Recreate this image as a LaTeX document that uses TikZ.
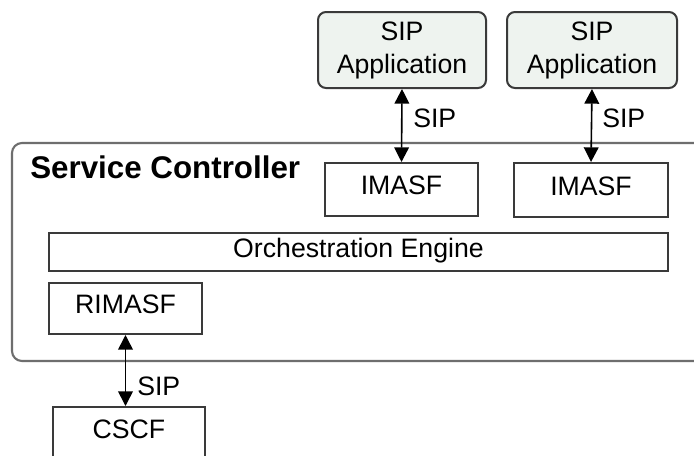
\documentclass[tikz,border=0pt]{standalone}
\usepackage{fontspec}
\setmainfont{Liberation Sans}
\usetikzlibrary{arrows.meta}
\definecolor{appfill}{HTML}{EEF3EF}
\definecolor{boxline}{HTML}{3A3A3A}
\definecolor{scline}{HTML}{6E6E6E}
\begin{document}
\begin{tikzpicture}[x=0.75pt,y=-0.75pt,
  box/.style={draw=boxline, line width=1.5pt, fill=white, inner sep=0pt,
    font=\fontsize{20}{24.75}\selectfont, text depth=6pt},
  appbox/.style={draw=boxline, line width=1.5pt, fill=appfill, rounded corners=6pt,
    inner sep=0pt, align=center, font=\fontsize{20}{24.75}\selectfont},
  sip/.style={arrows={Triangle[length=11pt,width=11pt]-Triangle[length=11pt,width=11pt]}, line width=1.2pt, black},
  siplabel/.style={inner sep=0pt, anchor=west, font=\fontsize{20}{24}\selectfont}
]
\useasboundingbox (0,0) rectangle (694,455);
\clip (0,0) rectangle (694,455);
\fill[white] (0,0) rectangle (694,455);

% Service Controller container
\draw[draw=scline, line width=1.6pt, rounded corners=7.5pt] (12,143) rectangle (710,361);
\node[anchor=base west, inner sep=0pt, font=\fontsize{23.5}{28}\selectfont\bfseries] (sctitle) at (30,178) {Service Controller};

% SIP applications
\node[appbox, minimum width=168*0.75pt, minimum height=76*0.75pt] (app1) at (402,50) {SIP\\Application};
\node[appbox, minimum width=170*0.75pt, minimum height=76*0.75pt] (app2) at (592,50) {SIP\\Application};

% IMASF boxes
\node[box, minimum width=153*0.75pt, minimum height=53*0.75pt] (imasf1) at (401.5,189.5) {IMASF};
\node[box, minimum width=154*0.75pt, minimum height=54*0.75pt] (imasf2) at (591,190) {IMASF};

% Orchestration Engine
\node[box, minimum width=619*0.75pt, minimum height=38*0.75pt] (orch) at (358.5,252) {Orchestration Engine};

% RIMASF
\node[box, minimum width=153*0.75pt, minimum height=51*0.75pt] (rimasf) at (125.5,308.5) {RIMASF};

% CSCF (bottom cut off by the picture edge)
\node[draw=boxline, line width=1.5pt, fill=white, inner sep=0pt, anchor=north,
  minimum width=152*0.75pt, minimum height=70*0.75pt] (cscf) at (129,406) {};
\node[inner sep=0pt, font=\fontsize{20}{24}\selectfont] (cscftext) at (129,429) {CSCF};

% Connectors
\draw[sip] (app1.south) -- (imasf1.north);
\draw[sip] (app2.south) -- (imasf2.north);
\draw[sip] (rimasf.south) -- (rimasf.south |- cscf.north);

% SIP labels
\node[siplabel] (l1) at (413,118) {SIP};
\node[siplabel] (l2) at (602,118) {SIP};
\node[siplabel] (l3) at (137,386) {SIP};
\end{tikzpicture}
\end{document}
